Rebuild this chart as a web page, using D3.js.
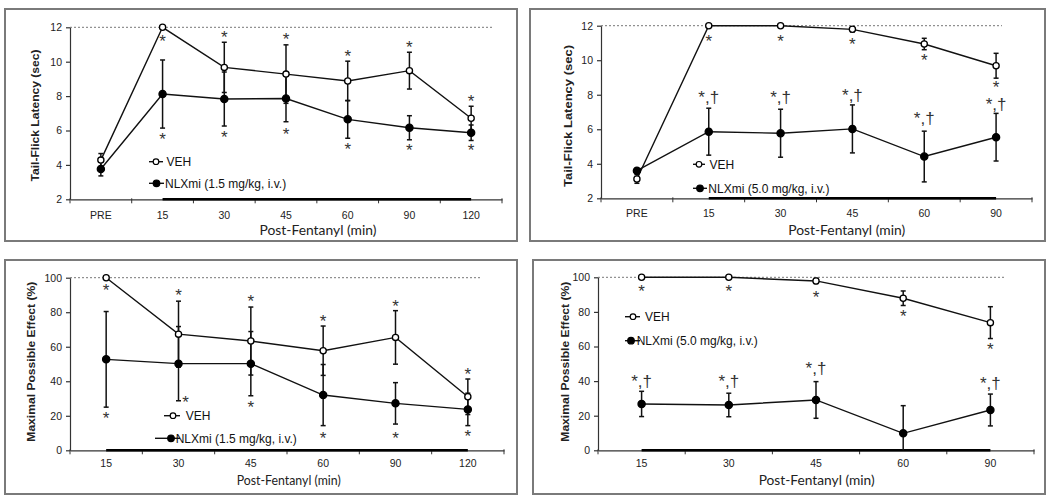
<!DOCTYPE html>
<html>
<head>
<meta charset="utf-8">
<script src="https://cdn.jsdelivr.net/npm/d3@7"></script>
<style>
body{margin:0;background:#fff;}
svg{display:block;}
text{-webkit-font-smoothing:antialiased;}
</style>
</head>
<body>
<svg id="chart"></svg>
<script>
// tail-flick latency (sec), 1.5 mg/kg
var tfCatsA=["PRE","15","30","45","60","90","120"];
var tfVehA=[4.28,12.0,9.67,9.28,8.88,9.48,6.71];
var tfVehErrA=[0.38,0,1.46,1.7,1.15,1.07,0.7];
var tfNlxA=[3.76,8.12,7.83,7.86,6.65,6.16,5.87];
var tfNlxErrA=[0.4,1.98,1.57,1.35,1.1,0.7,0.45];
var tfVehMarkA=[null,11.4,11.65,11.55,10.55,11.07,7.91];
var tfNlxMarkA=[null,5.7,5.84,6.0,5.12,5.06,5.06];

// tail-flick latency (sec), 5.0 mg/kg
var tfCatsB=["PRE","15","30","45","60","90"];
var tfVehB=[3.12,12.0,12.0,11.79,10.94,9.68];
var tfVehErrB=[0.25,0,0,0.15,0.33,0.72];
var tfNlxB=[3.6,5.86,5.77,6.02,4.42,5.54];
var tfNlxErrB=[0.12,1.36,1.39,1.39,1.47,1.38];
var tfVehMarkB=[null,11.33,11.33,11.17,10.2,8.66];
var tfNlxMarkB=[null,7.85,7.85,7.99,6.64,7.45];

// maximal possible effect (%), 1.5 mg/kg
var mpeCatsA=["15","30","45","60","90","120"];
var mpeVehA=[100,67.3,63.3,57.7,65.4,31.0];
var mpeVehErrA=[0,19.1,19.7,14.3,15.5,10.3];
var mpeNlxA=[52.7,50.2,50.2,32.0,27.2,23.7];
var mpeNlxErrA=[27.7,21.5,18.6,17.7,12,9.4];
var mpeVehMarkA=[94.7,91.8,88.4,77.0,85.7,46.1];
var mpeNlxMarkA=[20.8,30.1,27.2,9.4,9.4,10.2];

// maximal possible effect (%), 5.0 mg/kg
var mpeCatsB=["15","30","45","60","90"];
var mpeVehB=[100,100,97.9,87.9,73.8];
var mpeVehErrB=[0,0,1.5,4.2,9.2];
var mpeNlxB=[26.8,26.2,29.1,9.8,23.3];
var mpeNlxErrB=[7.3,6.8,10.6,16,9.2];
var mpeVehMarkB=[94.0,94.0,90.5,79.8,60.5];
var mpeNlxMarkB=[40.1,40,47.4,null,38.7];

var tfTicks=[2,4,6,8,10,12];
var mpeTicks=[0,20,40,60,80,100];
var tfTitle="Tail-Flick  Latency (sec)";
var mpeTitle="Maximal Possible Effect (%)";
var xTitle="Post-Fentanyl (min)";
var vehLabel="VEH";
var nlxLabelA="NLXmi (1.5 mg/kg, i.v.)";
var nlxLabelB="NLXmi (5.0 mg/kg, i.v.)";

var sans="'Liberation Sans',Arial,sans-serif";
var humanist="Lato,'Open Sans',sans-serif";

var svg=d3.select("#chart")
          .attr("width",1050)
          .attr("height",502);

var drawPanel=function(p)
{
  var g=svg.append("g").classed("panel",true);

  g.append("rect")
   .attr("x",p.frame[0]).attr("y",p.frame[1])
   .attr("width",p.frame[2]).attr("height",p.frame[3])
   .attr("fill","none").attr("stroke","#7a7a7a").attr("stroke-width",2);

  var xScale=d3.scaleBand()
               .domain(p.cats)
               .range([p.x0,p.x1]);
  var yScale=d3.scaleLinear()
               .domain(p.dom)
               .range([p.yBot,p.yTop]);
  var cx=function(i){return xScale(p.cats[i])+xScale.bandwidth()/2;};

  // ceiling line
  g.append("line")
   .attr("x1",p.x0).attr("x2",p.dotEnd)
   .attr("y1",yScale(p.dom[1])).attr("y2",yScale(p.dom[1]))
   .attr("stroke","#777").attr("stroke-width",1)
   .attr("stroke-dasharray","2,2");

  var yAxis=d3.axisLeft(yScale)
              .tickValues(p.ticks)
              .tickSize(4)
              .tickPadding(4)
              .tickSizeOuter(0);
  var ya=g.append("g").classed("yAxis",true)
          .attr("transform","translate("+p.x0+",0)")
          .call(yAxis);

  var xAxis=d3.axisBottom(xScale)
              .tickSize(0)
              .tickPadding(p.labelPad)
              .tickSizeOuter(0);
  var xa=g.append("g").classed("xAxis",true)
          .attr("transform","translate(0,"+p.yBot+")")
          .call(xAxis);

  [ya,xa].forEach(function(a){
    a.selectAll("path,line").attr("stroke","#333").attr("stroke-width",1.2);
    a.selectAll("text")
     .attr("font-family",sans)
     .attr("font-size","10.5px")
     .attr("fill","#222");
  });

  // band boundary ticks
  var bounds=p.cats.map(function(c){return xScale(c);}).concat([p.x1]);
  g.selectAll("line.bt")
   .data(bounds)
   .enter()
   .append("line")
   .classed("bt",true)
   .attr("x1",function(d){return d;})
   .attr("x2",function(d){return d;})
   .attr("y1",p.yBot-1)
   .attr("y2",p.yBot+4)
   .attr("stroke","#333");

  // treatment bar
  g.append("line")
   .attr("x1",cx(p.barFrom)).attr("x2",cx(p.cats.length-1))
   .attr("y1",p.yBot).attr("y2",p.yBot)
   .attr("stroke","#000").attr("stroke-width",2.6);

  var series=[
    {m:p.veh,e:p.vehErr,open:true},
    {m:p.nlx,e:p.nlxErr,open:false}
  ];

  var line=d3.line()
             .x(function(d,i){return cx(i);})
             .y(function(d){return yScale(d);});

  series.forEach(function(s){
    g.append("path")
     .attr("d",line(s.m))
     .attr("fill","none")
     .attr("stroke","#111")
     .attr("stroke-width",1.4);
  });

  series.forEach(function(s){
    var eb=g.append("g").classed("errs",true);
    s.m.forEach(function(v,i){
      if(!s.e[i]) return;
      var top=yScale(v+s.e[i]);
      var bot=yScale(Math.max(p.dom[0],v-s.e[i]));
      var x=cx(i);
      eb.append("line").attr("x1",x).attr("x2",x).attr("y1",top).attr("y2",bot)
        .attr("stroke","#111").attr("stroke-width",1.5);
      eb.append("line").attr("x1",x-2.5).attr("x2",x+2.5).attr("y1",top).attr("y2",top)
        .attr("stroke","#111").attr("stroke-width",1.5);
      if(v-s.e[i]>p.dom[0])
        eb.append("line").attr("x1",x-2.5).attr("x2",x+2.5).attr("y1",bot).attr("y2",bot)
          .attr("stroke","#111").attr("stroke-width",1.5);
    });
  });

  series.slice().reverse().forEach(function(s){
    g.selectAll(null)
     .data(s.m)
     .enter()
     .append("circle")
     .attr("cx",function(d,i){return cx(i);})
     .attr("cy",function(d){return yScale(d);})
     .attr("r",s.open?3.1:3.6)
     .attr("fill",s.open?"#fff":"#000")
     .attr("stroke","#000")
     .attr("stroke-width",1.3);
  });

  // significance marks
  var marks=[
    {v:p.vehMark,t:"*",shift:{}},
    {v:p.nlxMark,t:p.nlxSym,shift:p.markShift}
  ];
  marks.forEach(function(mk){
    var pts=mk.v.map(function(d,i){return {v:d,i:i};})
                .filter(function(d){return d.v!==null;});
    g.selectAll(null)
     .data(pts)
     .enter()
     .append("text")
     .attr("x",function(d){return cx(d.i)+(mk.shift[d.i]||0);})
     .attr("y",function(d){return yScale(d.v)+(mk.t=="*"?9.5:6);})
     .attr("text-anchor","middle")
     .attr("font-family",sans)
     .attr("font-size","17px")
     .attr("fill","#333")
     .text(mk.t);
  });

  // legend
  var legendRows=[
    {r:p.legVeh,label:vehLabel,open:true},
    {r:p.legNlx,label:p.nlxLabel,open:false}
  ];
  var legend=g.append("g").classed("legend",true);
  legendRows.forEach(function(d){
    legend.append("line")
          .attr("x1",d.r[0]).attr("x2",d.r[1])
          .attr("y1",d.r[4]).attr("y2",d.r[4])
          .attr("stroke","#111").attr("stroke-width",1.4);
    legend.append("circle")
          .attr("cx",d.r[2]).attr("cy",d.r[4])
          .attr("r",d.open?2.8:3.3)
          .attr("fill",d.open?"#fff":"#000")
          .attr("stroke","#000").attr("stroke-width",1.2);
    legend.append("text")
          .attr("x",d.r[3]).attr("y",d.r[4]+4.2)
          .attr("font-family",sans)
          .attr("font-size","12px")
          .attr("fill","#111")
          .text(d.label);
  });

  g.append("text")
   .attr("transform","translate("+p.yTitle[0]+","+p.yTitle[1]+") rotate(-90)")
   .attr("text-anchor","middle")
   .attr("dy","0.35em")
   .attr("font-family",sans)
   .attr("font-weight","bold")
   .attr("font-size","10.5px")
   .attr("fill","#222")
   .attr("textLength",p.yTitle[2])
   .attr("lengthAdjust","spacingAndGlyphs")
   .text(p.yText);

  g.append("text")
   .attr("x",p.xTitle[0]).attr("y",p.xTitle[1])
   .attr("text-anchor","middle")
   .attr("dy","0.35em")
   .attr("font-family",humanist)
   .attr("font-size","13.5px")
   .attr("fill","#222")
   .attr("textLength",p.xTitle[2])
   .attr("lengthAdjust","spacingAndGlyphs")
   .text(xTitle);
};

drawPanel({
  frame:[5,9,512,232], x0:70, x1:502, yTop:27.3, yBot:199.3, dom:[2,12], ticks:tfTicks,
  cats:tfCatsA, veh:tfVehA, vehErr:tfVehErrA, nlx:tfNlxA, nlxErr:tfNlxErrA,
  vehMark:tfVehMarkA, nlxMark:tfNlxMarkA, nlxSym:"*", markShift:{},
  dotEnd:493, labelPad:12, barFrom:1,
  yTitle:[35,115.5,132], yText:tfTitle, xTitle:[318,230,117],
  legVeh:[149,163,156,166.5,161.7], legNlx:[149,164,156.5,165,183.3], nlxLabel:nlxLabelA
});

drawPanel({
  frame:[530,9,515,232], x0:601, x1:1032, yTop:25.7, yBot:198.3, dom:[2,12], ticks:tfTicks,
  cats:tfCatsB, veh:tfVehB, vehErr:tfVehErrB, nlx:tfNlxB, nlxErr:tfNlxErrB,
  vehMark:tfVehMarkB, nlxMark:tfNlxMarkB, nlxSym:"*,\u2020", markShift:{},
  dotEnd:1002, labelPad:11.3, barFrom:1,
  yTitle:[568,116,142], yText:tfTitle, xTitle:[846.7,230,117],
  legVeh:[693,705,699,709.5,164.3], legNlx:[693,707,700,708.3,188.3], nlxLabel:nlxLabelB
});

drawPanel({
  frame:[5,260,512,234], x0:70, x1:504, yTop:277.7, yBot:450.3, dom:[0,100], ticks:mpeTicks,
  cats:mpeCatsA, veh:mpeVehA, vehErr:mpeVehErrA, nlx:mpeNlxA, nlxErr:mpeNlxErrA,
  vehMark:mpeVehMarkA, nlxMark:mpeNlxMarkA, nlxSym:"*", markShift:{1:7},
  dotEnd:480, labelPad:9.3, barFrom:0,
  yTitle:[31.7,361.7,160], yText:mpeTitle, xTitle:[288.7,480,104],
  legVeh:[164,180,173,185.7,415.7], legNlx:[155,180,171,175.7,438.3], nlxLabel:nlxLabelA
});

drawPanel({
  frame:[533,260,512,234], x0:598, x1:1034, yTop:277.3, yBot:450.3, dom:[0,100], ticks:mpeTicks,
  cats:mpeCatsB, veh:mpeVehB, vehErr:mpeVehErrB, nlx:mpeNlxB, nlxErr:mpeNlxErrB,
  vehMark:mpeVehMarkB, nlxMark:mpeNlxMarkB, nlxSym:"*,\u2020", markShift:{},
  dotEnd:1005, labelPad:9.3, barFrom:0,
  yTitle:[565,361.7,160], yText:mpeTitle, xTitle:[816.7,480,116],
  legVeh:[625,640,633,645,316.7], legNlx:[625,640,631,636.7,340.7], nlxLabel:nlxLabelB
});
</script>
</body>
</html>
